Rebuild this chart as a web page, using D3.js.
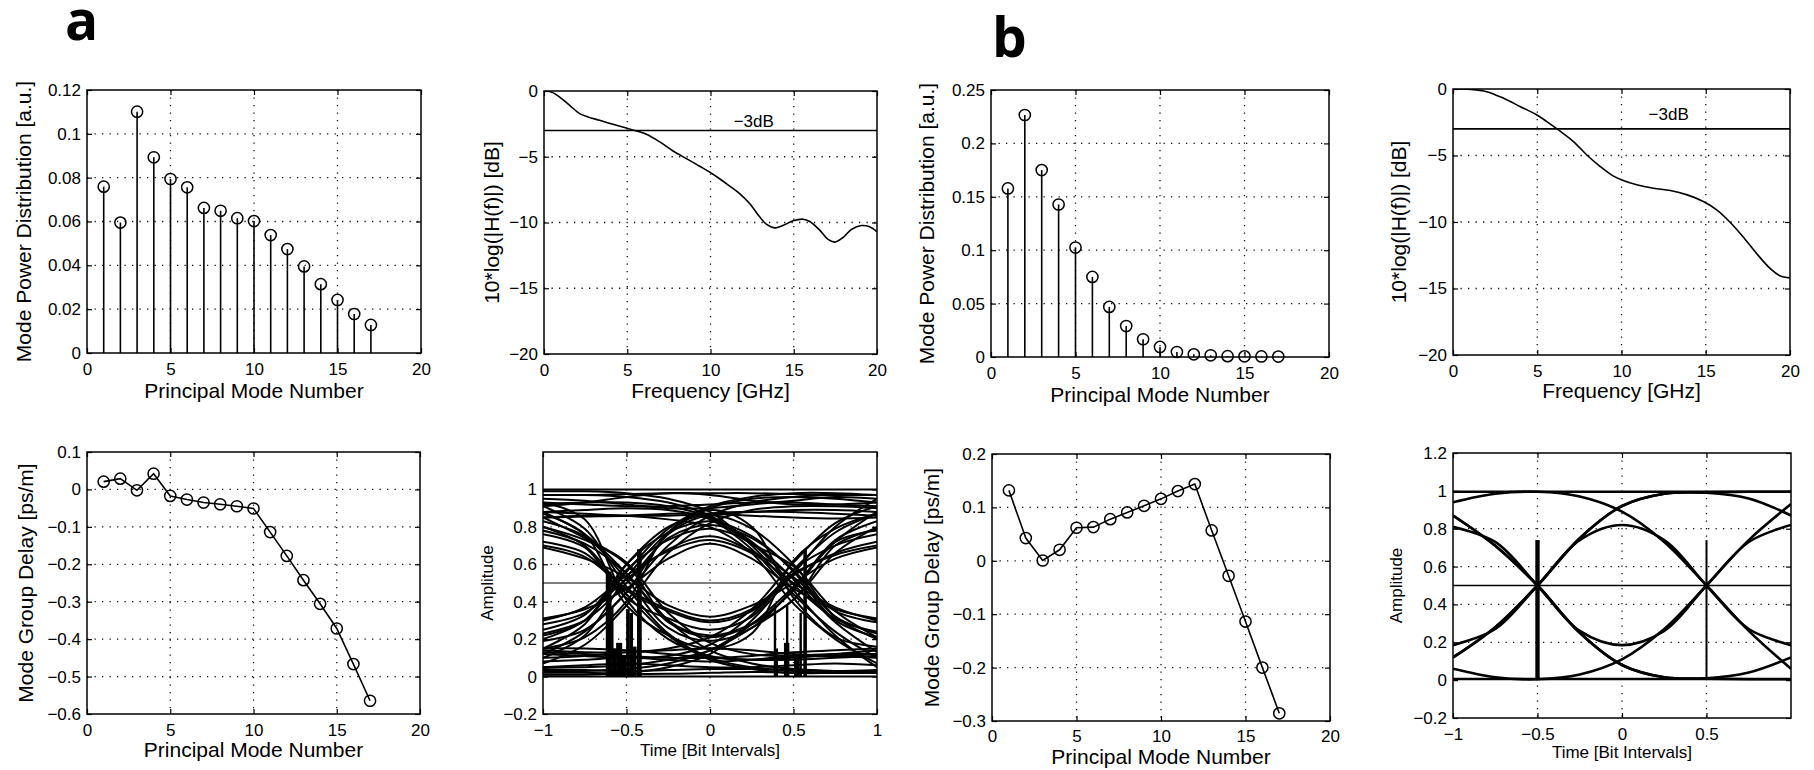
<!DOCTYPE html>
<html><head><meta charset="utf-8">
<script src="https://cdn.jsdelivr.net/npm/d3@7"></script>
<style>body{margin:0;background:#fff}</style>
</head><body>
<svg id="c" width="1814" height="770"></svg>
<script>
// ---------------- DATA ----------------
const modes = [1,2,3,4,5,6,7,8,9,10,11,12,13,14,15,16,17];
const powerA = [0.0759,0.0595,0.1101,0.0893,0.0794,0.0756,0.0662,0.0649,0.0615,0.0602,0.0538,0.0474,0.0395,0.0314,0.0242,0.0178,0.0128];
const powerB = [0.1578,0.2266,0.175,0.1428,0.1025,0.075,0.0469,0.029,0.0166,0.0094,0.0047,0.0025,0.0016,0.0008,0.0006,0.0005,0.0004];
const delayA = [0.0208,0.0288,-0.0023,0.042,-0.0174,-0.027,-0.035,-0.0397,-0.045,-0.051,-0.114,-0.1776,-0.2425,-0.3056,-0.3715,-0.4667,-0.5646];
const delayB = [0.1319,0.0425,0.0006,0.0206,0.0619,0.0631,0.078,0.0906,0.103,0.116,0.1306,0.1437,0.0569,-0.0281,-0.1138,-0.2,-0.2856];

const freqA = [[0,0],[0.44,-0.08],[0.94,-0.46],[1.54,-1.09],[2.14,-1.72],[2.64,-1.97],[3.34,-2.23],[4.14,-2.53],[4.94,-2.81],[5.55,-3.04],[6.15,-3.29],[6.95,-3.87],[7.75,-4.56],[8.55,-5.14],[9.35,-5.72],[10.15,-6.33],[10.95,-7.04],[11.75,-7.80],[12.35,-8.56],[12.95,-9.57],[13.35,-10.13],[13.85,-10.41],[14.35,-10.23],[14.96,-9.87],[15.56,-9.75],[15.96,-9.92],[16.56,-10.58],[17.06,-11.29],[17.46,-11.49],[17.96,-11.14],[18.46,-10.53],[19.06,-10.23],[19.56,-10.33],[20,-10.71]];
const freqB = [[0,0],[1.03,-0.03],[2.0,-0.2],[3.0,-0.7],[4.0,-1.33],[4.98,-1.95],[5.57,-2.45],[6.26,-3.08],[7.15,-3.95],[7.94,-4.96],[8.74,-5.83],[9.5,-6.53],[10.1,-6.88],[10.9,-7.2],[11.9,-7.46],[12.9,-7.63],[13.9,-7.96],[14.86,-8.46],[15.65,-9.09],[16.4,-9.96],[17.2,-11.09],[18.0,-12.34],[18.8,-13.47],[19.4,-14.04],[20,-14.2]];
const level3dB = -3;
const label3dBA = [12.6,-2.72];
const label3dBB = [12.8,-2.35];

const eyeT = [-1,-0.75,-0.5,-0.25,0,0.25,0.5,0.75,1];
const eyeA = [
  // humps (010)
  [0.31,0.36,0.47,0.63,0.71,0.63,0.47,0.36,0.31],
  [0.30,0.37,0.54,0.67,0.73,0.66,0.50,0.37,0.30],
  [0.28,0.34,0.52,0.68,0.75,0.67,0.53,0.35,0.29],
  [0.25,0.33,0.57,0.73,0.79,0.71,0.49,0.31,0.24],
  [0.23,0.30,0.50,0.74,0.81,0.74,0.57,0.32,0.23],
  [0.22,0.30,0.60,0.77,0.83,0.75,0.56,0.30,0.21],
  [0.19,0.25,0.45,0.76,0.86,0.79,0.60,0.32,0.20],
  [0.15,0.21,0.40,0.77,0.89,0.80,0.42,0.21,0.16],
  // dips (101)
  [0.69,0.63,0.53,0.38,0.32,0.38,0.50,0.63,0.69],
  [0.70,0.64,0.47,0.36,0.30,0.36,0.55,0.65,0.70],
  [0.72,0.66,0.46,0.35,0.29,0.35,0.54,0.66,0.72],
  [0.76,0.69,0.42,0.31,0.25,0.32,0.57,0.70,0.76],
  [0.78,0.71,0.55,0.29,0.21,0.28,0.46,0.72,0.78],
  [0.80,0.73,0.60,0.30,0.22,0.28,0.41,0.70,0.79],
  [0.83,0.75,0.52,0.26,0.19,0.26,0.47,0.73,0.83],
  [0.87,0.76,0.38,0.22,0.15,0.23,0.62,0.79,0.87],
  // rising near -0.5
  [0.12,0.24,0.45,0.70,0.86,0.93,0.96,0.97,0.97],
  [0.10,0.22,0.53,0.77,0.90,0.95,0.96,0.95,0.93],
  [0.15,0.28,0.60,0.80,0.87,0.88,0.88,0.87,0.86],
  [0.07,0.17,0.38,0.66,0.82,0.89,0.91,0.91,0.90],
  [0.20,0.30,0.56,0.79,0.91,0.96,0.98,0.98,0.97],
  // falling near -0.5
  [0.88,0.76,0.55,0.30,0.14,0.07,0.04,0.03,0.03],
  [0.91,0.79,0.48,0.23,0.10,0.05,0.03,0.02,0.02],
  [0.85,0.74,0.61,0.34,0.18,0.12,0.11,0.11,0.12],
  [0.93,0.84,0.41,0.20,0.11,0.09,0.09,0.10,0.11],
  [0.80,0.70,0.44,0.22,0.09,0.04,0.02,0.02,0.03],
  // rising near 0.5
  [0.03,0.03,0.04,0.07,0.14,0.28,0.48,0.72,0.88],
  [0.12,0.11,0.10,0.11,0.17,0.33,0.57,0.77,0.87],
  [0.05,0.05,0.06,0.09,0.14,0.26,0.41,0.66,0.80],
  [0.14,0.13,0.13,0.15,0.21,0.36,0.61,0.82,0.91],
  [0.01,0.01,0.02,0.05,0.12,0.30,0.55,0.80,0.95],
  // falling near 0.5
  [0.97,0.97,0.96,0.93,0.86,0.72,0.52,0.29,0.13],
  [0.88,0.89,0.90,0.89,0.84,0.68,0.44,0.24,0.10],
  [0.92,0.93,0.93,0.91,0.85,0.71,0.59,0.35,0.21],
  [0.85,0.86,0.86,0.84,0.80,0.66,0.39,0.20,0.07],
  [0.99,0.99,0.98,0.95,0.88,0.70,0.46,0.22,0.05],
  // steady high
  [1.0,1.0,1.0,1.0,1.0,1.0,1.0,1.0,1.0],
  [0.97,0.97,0.975,0.98,0.98,0.98,0.975,0.97,0.97],
  [0.91,0.93,0.96,0.98,0.97,0.94,0.92,0.92,0.93],
  [0.95,0.94,0.92,0.90,0.90,0.92,0.94,0.96,0.95],
  [0.88,0.87,0.86,0.86,0.87,0.88,0.89,0.89,0.88],
  [0.85,0.855,0.86,0.87,0.87,0.86,0.85,0.845,0.85],
  [0.93,0.92,0.91,0.91,0.92,0.93,0.93,0.92,0.91],
  // steady low
  [0.0,0.0,0.0,0.0,0.0,0.0,0.0,0.0,0.0],
  [0.02,0.02,0.015,0.015,0.02,0.025,0.02,0.02,0.02],
  [0.05,0.06,0.07,0.06,0.05,0.05,0.06,0.07,0.06],
  [0.10,0.11,0.13,0.14,0.15,0.14,0.12,0.11,0.10],
  [0.15,0.15,0.14,0.12,0.10,0.09,0.10,0.12,0.14],
  [0.08,0.09,0.10,0.09,0.08,0.09,0.11,0.12,0.12],
  [0.13,0.12,0.11,0.10,0.10,0.11,0.13,0.14,0.15],
  [0.04,0.035,0.03,0.035,0.04,0.04,0.035,0.03,0.035]
];
const eyeB = [
  [0.995,0.995,0.995,0.995,0.995,0.995,0.995,0.995,0.995],
  [0.006,0.006,0.006,0.006,0.006,0.006,0.006,0.006,0.006],
  [0.94,0.985,0.995,0.97,0.89,0.73,0.50,0.26,0.06],
  [0.06,0.015,0.005,0.03,0.11,0.27,0.50,0.74,0.93],
  [0.87,0.71,0.50,0.25,0.08,0.015,0.008,0.005,0.005],
  [0.12,0.28,0.50,0.75,0.92,0.985,0.992,0.995,0.995],
  [0.87,0.71,0.50,0.25,0.08,0.015,0.01,0.04,0.12],
  [0.12,0.28,0.50,0.75,0.92,0.985,0.99,0.96,0.87],
  [0.81,0.73,0.50,0.26,0.185,0.26,0.50,0.73,0.82],
  [0.185,0.27,0.50,0.74,0.82,0.74,0.50,0.27,0.185]
];
const eyeThreshold = 0.5;
// vertical markers in eye diagrams: [time, top amplitude]
const barsA = [
  [-0.617,0.56],[-0.61,0.56],[-0.603,0.56],[-0.597,0.56],[-0.585,0.37],
  [-0.575,0.15],[-0.567,0.15],[-0.555,0.18],[-0.548,0.18],[-0.54,0.18],[-0.533,0.18],
  [-0.52,0.11],[-0.51,0.11],[-0.495,0.36],[-0.488,0.36],[-0.476,0.34],[-0.468,0.34],
  [-0.455,0.16],[-0.447,0.16],[-0.43,0.68],[-0.422,0.68],[-0.416,0.68],
  [0.389,0.39],[0.40,0.15],[0.45,0.18],[0.457,0.18],[0.462,0.38],[0.468,0.18],
  [0.51,0.10],[0.52,0.10],[0.53,0.10],[0.543,0.34],[0.566,0.676],[0.573,0.676]
];
const barsB = [[-0.507,0.74],[-0.5,0.74],[-0.493,0.74],[0.5,0.74]];

// tick values
const modeTicks = [0,5,10,15,20];
const modeGrid = [5,10,15];
const powerATicks = [0,0.02,0.04,0.06,0.08,0.1,0.12];
const powerBTicks = [0,0.05,0.1,0.15,0.2,0.25];
const delayATicks = [-0.6,-0.5,-0.4,-0.3,-0.2,-0.1,0,0.1];
const delayBTicks = [-0.3,-0.2,-0.1,0,0.1,0.2];
const freqTicks = [0,5,10,15,20];
const dBTicks = [-20,-15,-10,-5,0];
const timeTicksA = [-1,-0.5,0,0.5,1];
const timeTicksB = [-1,-0.5,0,0.5];
const timeGrid = [-0.5,0,0.5];
const ampTicksA = [-0.2,0,0.2,0.4,0.6,0.8,1];
const ampTicksB = [-0.2,0,0.2,0.4,0.6,0.8,1,1.2];
const ampGrid = [0.2,0.4,0.6,0.8];

// ---------------- DRAWING ----------------
const FONT = '"Liberation Sans", Arial, Helvetica, sans-serif';
const svg = d3.select("#c");
svg.append("rect").attr("width",1814).attr("height",770).attr("fill","#fff");
const fmt = d3.format("~g");
let clipN = 0;

function makePanel(o){
  const g = svg.append("g");
  const x = d3.scaleLinear().domain(o.xDomain).range([o.left,o.right]);
  const y = d3.scaleLinear().domain(o.yDomain).range([o.bottom,o.top]);
  const cid = "clip"+(clipN++);
  svg.append("clipPath").attr("id",cid).append("rect")
    .attr("x",o.left).attr("y",o.top).attr("width",o.right-o.left).attr("height",o.bottom-o.top);
  const grid = g.append("g").attr("stroke","#111").attr("stroke-width",1.3).attr("stroke-dasharray","1.3,6.2");
  o.xGrid.forEach(v=>grid.append("line").attr("x1",x(v)).attr("x2",x(v)).attr("y1",o.top).attr("y2",o.bottom));
  o.yGrid.forEach(v=>grid.append("line").attr("x1",o.left).attr("x2",o.right).attr("y1",y(v)).attr("y2",y(v)));
  const plot = g.append("g").attr("clip-path",`url(#${cid})`);
  const deco = g.append("g");
  function style(s){
    s.select(".domain").remove();
    s.attr("font-family",FONT).attr("font-size",o.tickSize||17);
    s.selectAll("line").attr("stroke","#000").attr("stroke-width",1.2);
    s.selectAll("text").attr("fill","#000");
  }
  const tk = 5;
  deco.append("g").attr("transform",`translate(0,${o.bottom})`)
    .call(d3.axisBottom(x).tickValues(o.xTicks).tickSize(-tk).tickPadding(o.xPad||10).tickFormat(fmt)).call(style);
  deco.append("g").attr("transform",`translate(0,${o.top})`)
    .call(d3.axisTop(x).tickValues(o.xTicks).tickSize(-tk).tickFormat("")).call(style);
  deco.append("g").attr("transform",`translate(${o.left},0)`)
    .call(d3.axisLeft(y).tickValues(o.yTicks).tickSize(-tk).tickPadding(6).tickFormat(fmt)).call(style);
  deco.append("g").attr("transform",`translate(${o.right},0)`)
    .call(d3.axisRight(y).tickValues(o.yTicks).tickSize(-tk).tickFormat("")).call(style);
  deco.append("rect").attr("x",o.left).attr("y",o.top).attr("width",o.right-o.left).attr("height",o.bottom-o.top)
    .attr("fill","none").attr("stroke","#000").attr("stroke-width",1.5);
  deco.append("text").attr("x",(o.left+o.right)/2).attr("y",o.xLabelY).attr("text-anchor","middle")
    .attr("font-family",FONT).attr("font-size",o.labelSize||21).text(o.xLabel);
  deco.append("text").attr("transform",`translate(${o.yLabelX},${(o.top+o.bottom)/2}) rotate(-90)`)
    .attr("text-anchor","middle").attr("dy","0.35em")
    .attr("font-family",FONT).attr("font-size",o.labelSize||21).text(o.yLabel);
  return {g,plot,x,y};
}

function stemPlot(p, vals){
  p.plot.selectAll(null).data(modes).enter().append("line")
    .attr("x1",d=>p.x(d)).attr("x2",d=>p.x(d)).attr("y1",p.y(0)).attr("y2",(d,i)=>p.y(vals[i]))
    .attr("stroke","#000").attr("stroke-width",1.6);
  p.g.selectAll(null).data(modes).enter().append("circle")
    .attr("cx",d=>p.x(d)).attr("cy",(d,i)=>p.y(vals[i])).attr("r",5.6)
    .attr("fill","none").attr("stroke","#000").attr("stroke-width",1.5);
}
function linePlot(p, vals){
  const line = d3.line().x((d,i)=>p.x(modes[i])).y(d=>p.y(d));
  p.plot.append("path").attr("d",line(vals)).attr("fill","none").attr("stroke","#000").attr("stroke-width",1.6);
  p.g.selectAll(null).data(vals).enter().append("circle")
    .attr("cx",(d,i)=>p.x(modes[i])).attr("cy",d=>p.y(d)).attr("r",5.6)
    .attr("fill","none").attr("stroke","#000").attr("stroke-width",1.5);
}
function freqPlot(p, pts, lab){
  p.plot.append("line").attr("x1",p.x(0)).attr("x2",p.x(20)).attr("y1",p.y(level3dB)).attr("y2",p.y(level3dB))
    .attr("stroke","#000").attr("stroke-width",1.6);
  const line = d3.line().x(d=>p.x(d[0])).y(d=>p.y(d[1])).curve(d3.curveCatmullRom.alpha(0.5));
  p.plot.append("path").attr("d",line(pts)).attr("fill","none").attr("stroke","#000").attr("stroke-width",1.6);
  p.g.append("text").attr("x",p.x(lab[0])).attr("y",p.y(lab[1])).attr("text-anchor","middle")
    .attr("font-family",FONT).attr("font-size",17).text("\u22123dB");
}
function eyePlot(p, traces, bars, lw, thrColor, thrW, barW){
  const line = d3.line().x((d,i)=>p.x(eyeT[i])).y(d=>p.y(d)).curve(d3.curveCatmullRom.alpha(0.5));
  p.plot.append("line").attr("x1",p.x(-1)).attr("x2",p.x(1)).attr("y1",p.y(eyeThreshold)).attr("y2",p.y(eyeThreshold))
    .attr("stroke",thrColor).attr("stroke-width",thrW);
  traces.forEach(tr=>{
    p.plot.append("path").attr("d",line(tr)).attr("fill","none").attr("stroke","#000").attr("stroke-width",lw);
  });
  bars.forEach(b=>{
    p.plot.append("line").attr("x1",p.x(b[0])).attr("x2",p.x(b[0])).attr("y1",p.y(0)).attr("y2",p.y(b[1]))
      .attr("stroke","#000").attr("stroke-width",barW);
  });
}

// Panel a1
const pa1 = makePanel({left:87,right:421,top:90,bottom:353,xDomain:[0,20],yDomain:[0,0.12],
  xTicks:modeTicks,yTicks:powerATicks,xGrid:modeGrid,yGrid:[0.02,0.04,0.06,0.08,0.1],
  xLabel:"Principal Mode Number",yLabel:"Mode Power Distribution [a.u.]",xLabelY:398,yLabelX:24});
stemPlot(pa1, powerA);
// Panel a2
const pa2 = makePanel({left:544,right:877,top:91,bottom:354,xDomain:[0,20],yDomain:[-20,0],
  xTicks:freqTicks,yTicks:dBTicks,xGrid:[5,10,15],yGrid:[-5,-10,-15],
  xLabel:"Frequency [GHz]",yLabel:"10*log(|H(f)|) [dB]",xLabelY:398,yLabelX:492});
freqPlot(pa2, freqA, label3dBA);
// Panel b1
const pb1 = makePanel({left:991,right:1329,top:90,bottom:357,xDomain:[0,20],yDomain:[0,0.25],
  xTicks:modeTicks,yTicks:powerBTicks,xGrid:modeGrid,yGrid:[0.05,0.1,0.15,0.2],
  xLabel:"Principal Mode Number",yLabel:"Mode Power Distribution [a.u.]",xLabelY:402,yLabelX:927});
stemPlot(pb1, powerB);
// Panel b2
const pb2 = makePanel({left:1453,right:1790,top:89,bottom:355,xDomain:[0,20],yDomain:[-20,0],
  xTicks:freqTicks,yTicks:dBTicks,xGrid:[5,10,15],yGrid:[-5,-10,-15],
  xLabel:"Frequency [GHz]",yLabel:"10*log(|H(f)|) [dB]",xLabelY:398,yLabelX:1399});
freqPlot(pb2, freqB, label3dBB);
// Panel a3
const pa3 = makePanel({left:87,right:420,top:452,bottom:714,xDomain:[0,20],yDomain:[-0.6,0.1],
  xTicks:modeTicks,yTicks:delayATicks,xGrid:modeGrid,yGrid:[-0.5,-0.4,-0.3,-0.2,-0.1,0],
  xLabel:"Principal Mode Number",yLabel:"Mode Group Delay [ps/m]",xLabelY:757,yLabelX:26});
linePlot(pa3, delayA);
// Panel a4
const pa4 = makePanel({left:543,right:877,top:452,bottom:714,xDomain:[-1,1],yDomain:[-0.2,1.2],
  xTicks:timeTicksA,yTicks:ampTicksA,xGrid:timeGrid,yGrid:ampGrid,
  xLabel:"Time [Bit Intervals]",yLabel:"Amplitude",xLabelY:756,yLabelX:487,labelSize:17});
eyePlot(pa4, eyeA, barsA, 2.0, "#555", 1.3, 2.4);
// Panel b3
const pb3 = makePanel({left:992,right:1330,top:454,bottom:721,xDomain:[0,20],yDomain:[-0.3,0.2],
  xTicks:modeTicks,yTicks:delayBTicks,xGrid:modeGrid,yGrid:[-0.2,-0.1,0,0.1],xPad:9,
  xLabel:"Principal Mode Number",yLabel:"Mode Group Delay [ps/m]",xLabelY:764,yLabelX:932});
linePlot(pb3, delayB);
// Panel b4
const pb4 = makePanel({left:1453,right:1791,top:453,bottom:718,xDomain:[-1,1],yDomain:[-0.2,1.2],
  xTicks:timeTicksB,yTicks:ampTicksB,xGrid:timeGrid,yGrid:ampGrid,
  xLabel:"Time [Bit Intervals]",yLabel:"Amplitude",xLabelY:758,yLabelX:1396,labelSize:17});
eyePlot(pb4, eyeB, barsB, 2.6, "#000", 1.6, 2);

// panel letters
svg.append("text").attr("x",65).attr("y",40).attr("font-family",'"Open Sans", sans-serif').attr("font-weight",700).attr("font-size",55).text("a");
svg.append("text").attr("x",992).attr("y",57).attr("font-family",'"Open Sans", sans-serif').attr("font-weight",700).attr("font-size",55).text("b");
</script>
</body></html>
